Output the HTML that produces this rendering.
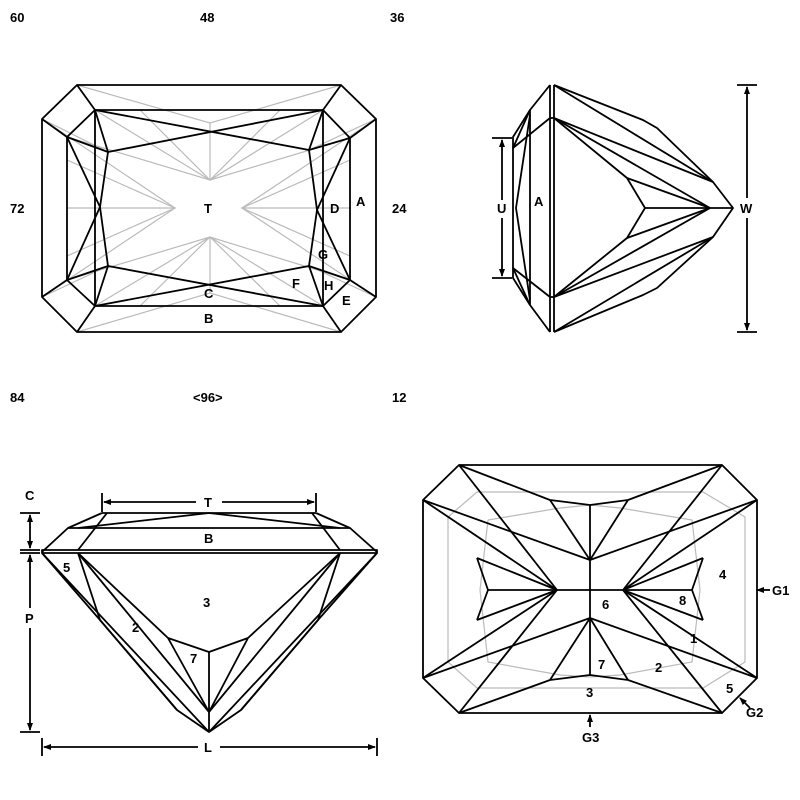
<!DOCTYPE html>
<html><head><meta charset="utf-8"><style>
html,body{margin:0;padding:0;background:#fff;width:800px;height:800px;overflow:hidden}
svg{display:block}
text{font-family:"Liberation Sans",sans-serif;font-weight:bold;font-size:13px;fill:#000}
.g{stroke:#bbb;stroke-width:1.2;fill:none}
.k{stroke:#000;stroke-width:1.8;fill:none;stroke-linejoin:round}
</style></head><body>
<svg width="800" height="800" viewBox="0 0 800 800">
<defs><marker id="ar" markerWidth="8" markerHeight="8" refX="7" refY="4" orient="auto-start-reverse" markerUnits="userSpaceOnUse"><path d="M0,1 L8,4 L0,7 Z" fill="#000"/></marker></defs>
<!-- labels -->
<text x="10" y="22">60</text><text x="200" y="22">48</text><text x="390" y="22">36</text>
<text x="10" y="213">72</text><text x="392" y="213">24</text>
<text x="10" y="402">84</text><text x="193" y="402">&lt;96&gt;</text><text x="392" y="402">12</text>

<!-- TOP LEFT: crown view -->
<g class="g">
<polyline points="77,85 210,123 341,85"/>
<polyline points="77,332 210,293 341,332"/>
<line x1="210" y1="123" x2="210" y2="180"/><line x1="210" y1="237" x2="210" y2="293"/>
<line x1="67" y1="208" x2="175" y2="208"/><line x1="242" y1="208" x2="350" y2="208"/>
<polyline points="42,119 175,208 42,297"/><polyline points="376,119 242,208 376,297"/>
<polyline points="95,110 210,180 323,110"/><polyline points="95,306 210,237 323,306"/>
<polyline points="67,137 210,180 350,138"/><polyline points="67,280 210,237 350,280"/>
<polyline points="67,160 175,208 67,256"/><polyline points="350,160 242,208 350,256"/>
<polyline points="140,110 210,180 280,110"/><polyline points="140,306 210,237 280,306"/>
<line x1="42" y1="119" x2="108" y2="152"/><line x1="376" y1="119" x2="309" y2="150"/>
<line x1="42" y1="297" x2="108" y2="266"/><line x1="376" y1="297" x2="309" y2="266"/>
</g>
<g class="k">
<polygon points="77,85 341,85 376,119 376,297 341,332 77,332 42,297 42,119"/>
<polygon points="95,110 323,110 323,306 95,306"/>
<line x1="77" y1="85" x2="95" y2="110"/><line x1="341" y1="85" x2="323" y2="110"/>
<line x1="77" y1="332" x2="95" y2="306"/><line x1="341" y1="332" x2="323" y2="306"/>
<line x1="42" y1="119" x2="67" y2="137"/><line x1="376" y1="119" x2="350" y2="138"/>
<line x1="42" y1="297" x2="67" y2="280"/><line x1="376" y1="297" x2="350" y2="280"/>
<line x1="67" y1="137" x2="67" y2="280"/><line x1="350" y1="138" x2="350" y2="280"/>
<line x1="95" y1="110" x2="67" y2="137"/><line x1="323" y1="110" x2="350" y2="138"/>
<line x1="95" y1="306" x2="67" y2="280"/><line x1="323" y1="306" x2="350" y2="280"/>
<polyline points="95,110 108,152 100,207 108,266 95,306"/>
<polyline points="323,110 309,150 317,210 309,266 323,306"/>
<line x1="95" y1="110" x2="309" y2="150"/><line x1="108" y1="152" x2="323" y2="110"/>
<line x1="108" y1="266" x2="323" y2="306"/><line x1="95" y1="306" x2="309" y2="266"/>
<line x1="67" y1="137" x2="108" y2="152"/><line x1="350" y1="138" x2="309" y2="150"/>
<line x1="67" y1="280" x2="108" y2="266"/><line x1="350" y1="280" x2="309" y2="266"/>
<polyline points="67,137 100,207 67,280"/><polyline points="350,138 317,210 350,280"/>
</g>
<text x="204" y="213">T</text><text x="330" y="213">D</text><text x="356" y="206">A</text>
<text x="318" y="259">G</text><text x="292" y="288">F</text><text x="324" y="290">H</text>
<text x="342" y="305">E</text><text x="204" y="298">C</text><text x="204" y="323">B</text>

<!-- TOP RIGHT: side view -->
<g class="k">
<line x1="550" y1="85" x2="550" y2="332"/><line x1="554" y1="85" x2="554" y2="332"/>
<line x1="550" y1="118" x2="554" y2="118"/><line x1="550" y1="297" x2="554" y2="297"/>
<polyline points="550,85 530,110 513,137 513,278 530,305 550,332"/>
<line x1="530" y1="110" x2="530" y2="305"/>
<polyline points="550,118 513,148 530,110"/><polyline points="550,297 513,268 530,305"/>
<polyline points="530,115 516,208 530,300"/>
<polyline points="554,85 643,120 657,128 713,182 733,208 713,237 657,288 643,295 554,332"/>
<polyline points="554,85 713,182"/><polyline points="554,332 713,237"/>
<polyline points="554,118 713,182"/><polyline points="554,297 713,237"/>
<polyline points="554,118 627,178 645,208 627,238 554,297"/>
<line x1="645" y1="208" x2="733" y2="208"/>
<line x1="627" y1="178" x2="710" y2="208"/><line x1="627" y1="238" x2="710" y2="208"/>
<line x1="554" y1="118" x2="710" y2="208"/><line x1="554" y1="297" x2="710" y2="208"/>
<line x1="492" y1="138" x2="512" y2="138"/><line x1="492" y1="278" x2="512" y2="278"/>
<line x1="502" y1="140" x2="502" y2="200" marker-start="url(#ar)"/><line x1="502" y1="218" x2="502" y2="276" marker-end="url(#ar)"/>
<line x1="737" y1="85" x2="757" y2="85"/><line x1="737" y1="332" x2="757" y2="332"/>
<line x1="747" y1="87" x2="747" y2="198" marker-start="url(#ar)"/><line x1="747" y1="218" x2="747" y2="330" marker-end="url(#ar)"/>
</g>
<text x="497" y="213">U</text><text x="534" y="206">A</text><text x="740" y="213">W</text>

<!-- BOTTOM LEFT: profile -->
<g class="k">
<polyline points="102,513 316,513"/>
<polyline points="42,552 68,528 350,528 377,552"/>
<polygon points="42,550 377,550 377,553 42,553"/>
<line x1="102" y1="513" x2="68" y2="528"/><line x1="316" y1="513" x2="350" y2="528"/>
<polyline points="107,513 78,550"/><polyline points="312,513 340,550"/>
<line x1="209" y1="513" x2="78" y2="528"/><line x1="209" y1="513" x2="340" y2="528"/>
<polyline points="42,553 100,620 177,710 209,732 241,710 318,620 377,553"/>
<polyline points="78,553 100,620 177,710"/><polyline points="340,553 318,620 241,710"/>
<line x1="42" y1="553" x2="209" y2="732"/><line x1="377" y1="553" x2="209" y2="732"/>
<line x1="78" y1="553" x2="209" y2="712"/><line x1="340" y1="553" x2="209" y2="712"/>
<line x1="78" y1="553" x2="168" y2="638"/><line x1="340" y1="553" x2="248" y2="638"/>
<polyline points="168,638 209,652 248,638"/>
<line x1="168" y1="638" x2="209" y2="712"/><line x1="248" y1="638" x2="209" y2="712"/>
<line x1="209" y1="652" x2="209" y2="732"/>
<line x1="102" y1="493" x2="102" y2="512"/><line x1="316" y1="493" x2="316" y2="512"/>
<line x1="104" y1="502" x2="196" y2="502" marker-start="url(#ar)"/><line x1="222" y1="502" x2="314" y2="502" marker-end="url(#ar)"/>
<line x1="20" y1="513" x2="40" y2="513"/><line x1="20" y1="550" x2="40" y2="550"/><line x1="20" y1="553" x2="40" y2="553"/><line x1="20" y1="732" x2="40" y2="732"/>
<line x1="30" y1="515" x2="30" y2="548" marker-start="url(#ar)" marker-end="url(#ar)"/>
<line x1="30" y1="555" x2="30" y2="608" marker-start="url(#ar)"/><line x1="30" y1="628" x2="30" y2="730" marker-end="url(#ar)"/>
<line x1="42" y1="738" x2="42" y2="756"/><line x1="377" y1="738" x2="377" y2="756"/>
<line x1="44" y1="747" x2="198" y2="747" marker-start="url(#ar)"/><line x1="220" y1="747" x2="375" y2="747" marker-end="url(#ar)"/>
</g>
<text x="204" y="507">T</text><text x="204" y="543">B</text><text x="25" y="500">C</text><text x="25" y="623">P</text>
<text x="204" y="752">L</text><text x="63" y="572">5</text><text x="203" y="607">3</text>
<text x="132" y="632">2</text><text x="190" y="663">7</text>

<!-- BOTTOM RIGHT: pavilion view -->
<g class="g">
<polygon points="477,492 703,492 745,517 745,662 703,688 477,688 448,662 448,517"/>
<polyline points="488,520 560,508 590,505 620,508 692,520 700,590 692,662 620,675 590,677 560,675 488,662 480,590 488,520"/>
</g>
<g class="k">
<polygon points="459,465 722,465 757,500 757,678 722,713 459,713 423,678 423,500"/>
<polyline points="550,500 590,505 628,500"/><polyline points="550,680 590,675 628,680"/>
<line x1="590" y1="505" x2="590" y2="675"/><line x1="488" y1="590" x2="692" y2="590"/>
<line x1="459" y1="465" x2="550" y2="500"/><line x1="722" y1="465" x2="628" y2="500"/>
<line x1="459" y1="713" x2="550" y2="680"/><line x1="722" y1="713" x2="628" y2="680"/>
<line x1="550" y1="500" x2="590" y2="560"/><line x1="628" y1="500" x2="590" y2="560"/>
<line x1="550" y1="680" x2="590" y2="618"/><line x1="628" y1="680" x2="590" y2="618"/>
<line x1="423" y1="500" x2="590" y2="560"/><line x1="757" y1="500" x2="590" y2="560"/>
<line x1="423" y1="678" x2="590" y2="618"/><line x1="757" y1="678" x2="590" y2="618"/>
<line x1="459" y1="465" x2="557" y2="590"/><line x1="459" y1="713" x2="557" y2="590"/>
<line x1="722" y1="465" x2="623" y2="590"/><line x1="722" y1="713" x2="623" y2="590"/>
<line x1="423" y1="500" x2="557" y2="590"/><line x1="423" y1="678" x2="557" y2="590"/>
<line x1="757" y1="500" x2="623" y2="590"/><line x1="757" y1="678" x2="623" y2="590"/>
<polyline points="477,558 488,590 477,620"/><polyline points="703,558 692,590 703,620"/>
<line x1="477" y1="558" x2="557" y2="590"/><line x1="477" y1="620" x2="557" y2="590"/>
<line x1="703" y1="558" x2="623" y2="590"/><line x1="703" y1="620" x2="623" y2="590"/>
<line x1="757" y1="590" x2="770" y2="590" marker-start="url(#ar)"/>
<line x1="590" y1="715" x2="590" y2="727" marker-start="url(#ar)"/>
<line x1="740" y1="698" x2="750" y2="708" marker-start="url(#ar)"/>
</g>
<text x="602" y="609">6</text><text x="679" y="605">8</text><text x="719" y="579">4</text>
<text x="690" y="643">1</text><text x="655" y="672">2</text><text x="598" y="669">7</text>
<text x="586" y="697">3</text><text x="726" y="693">5</text>
<text x="772" y="595">G1</text><text x="746" y="717">G2</text><text x="582" y="742">G3</text>
</svg>
</body></html>
